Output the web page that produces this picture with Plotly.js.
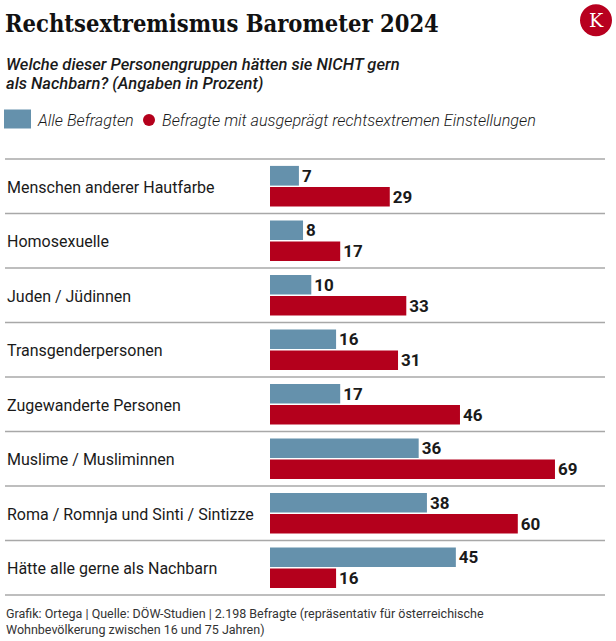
<!DOCTYPE html>
<html>
<head>
<meta charset="utf-8">
<script src="https://cdn.plot.ly/plotly-3.0.1.min.js"></script>
<style>html,body{margin:0;padding:0;background:#fff;}#chart{width:616px;height:641px;}</style>
</head>
<body>
<div id="chart"></div>
<script>
// ---- data ----
const categories = [
  'Menschen anderer Hautfarbe',
  'Homosexuelle',
  'Juden / Jüdinnen',
  'Transgenderpersonen',
  'Zugewanderte Personen',
  'Muslime / Musliminnen',
  'Roma / Romnja und Sinti / Sintizze',
  'Hätte alle gerne als Nachbarn'
];
const alleBefragten = [7, 8, 10, 16, 17, 36, 38, 45];
const rechtsextrem = [29, 17, 33, 31, 46, 69, 60, 16];
const seriesNames = ['Alle Befragten', 'Befragte mit ausgeprägt rechtsextremen Einstellungen'];
const titleText = 'Rechtsextremismus Barometer 2024';
const subtitleLines = ['Welche dieser Personengruppen hätten sie NICHT gern', 'als Nachbarn? (Angaben in Prozent)'];
const footerText = 'Grafik: Ortega | Quelle: DÖW-Studien | 2.198 Befragte (repräsentativ für österreichische<br>Wohnbevölkerung zwischen 16 und 75 Jahren)';

// ---- layout geometry ----
const FW = 616, FH = 641;
const L = 270, R = 11, T = 159, B = 46;
const W = FW - L - R, H = FH - T - B;
const pxPerUnit = 4.13;
const px = x => (x - L) / W;
const py = y => 1 - (y - T) / H;

const BLUE = '#6591ac';
const RED = '#b4001c';
const SEP = '#a8a8a8';
const TXT = '#1a1a1a';

const valueFont = {family: 'Roboto, sans-serif', size: 17, weight: 700, color: TXT};

const traces = [
  {type: 'bar', orientation: 'h', name: seriesNames[0], y: categories, x: alleBefragten,
   marker: {color: BLUE}, text: alleBefragten.map(String), textposition: 'outside',
   textfont: valueFont, cliponaxis: false, constraintext: 'none', hoverinfo: 'skip'},
  {type: 'bar', orientation: 'h', name: seriesNames[1], y: categories, x: rechtsextrem,
   marker: {color: RED}, text: rechtsextrem.map(String), textposition: 'outside',
   textfont: valueFont, cliponaxis: false, constraintext: 'none', hoverinfo: 'skip'}
];

const shapes = [];
// row separators
for (let i = 0; i <= categories.length; i++) {
  shapes.push({type: 'line', xref: 'paper', yref: 'paper', x0: px(5), x1: px(605),
    y0: i / categories.length, y1: i / categories.length, line: {color: SEP, width: 1.5}});
}
// legend symbols
shapes.push({type: 'rect', xref: 'paper', yref: 'paper', x0: px(4), x1: px(31), y0: py(128.5), y1: py(109.5),
  fillcolor: BLUE, line: {width: 0}});
shapes.push({type: 'circle', xref: 'paper', yref: 'paper', x0: px(143), x1: px(155), y0: py(126), y1: py(114),
  fillcolor: RED, line: {width: 0}});
// logo circle
shapes.push({type: 'circle', xref: 'paper', yref: 'paper', x0: px(580), x1: px(612), y0: py(36.3), y1: py(4.3),
  fillcolor: '#b8001f', line: {width: 0}});

const annotations = [];
categories.forEach(c => {
  annotations.push({xref: 'paper', yref: 'y', x: px(5), y: c, xanchor: 'left', yanchor: 'middle', yshift: -1,
    text: c, showarrow: false, font: {family: 'Roboto, sans-serif', size: 16, color: TXT}});
});
subtitleLines.forEach((s, i) => {
  annotations.push({xref: 'paper', yref: 'paper', x: px(4), y: py(64.5 + i * 19), xanchor: 'left', yanchor: 'middle',
    text: s, showarrow: false, font: {family: 'Roboto, sans-serif', size: 16.5, style: 'italic', weight: 500, color: TXT}});
});
const legFont = {family: 'Roboto, sans-serif', size: 16.2, style: 'italic', weight: 300, color: TXT};
annotations.push({xref: 'paper', yref: 'paper', x: px(35), y: py(120), xanchor: 'left', yanchor: 'middle',
  text: seriesNames[0], showarrow: false, font: legFont});
annotations.push({xref: 'paper', yref: 'paper', x: px(160), y: py(120), xanchor: 'left', yanchor: 'middle',
  text: seriesNames[1], showarrow: false, font: legFont});
annotations.push({xref: 'paper', yref: 'paper', x: px(4), y: py(604), xanchor: 'left', yanchor: 'top', align: 'left',
  text: footerText, showarrow: false, font: {family: 'Roboto, sans-serif', size: 12.5, color: '#333'}});
annotations.push({xref: 'paper', yref: 'paper', x: px(596), y: py(20.3), xanchor: 'center', yanchor: 'middle',
  text: 'K', showarrow: false, font: {family: 'DejaVu Serif, serif', size: 19, color: '#fff'}});

const layout = {
  width: FW, height: FH,
  margin: {l: L, r: R, t: T, b: B, pad: 0},
  paper_bgcolor: '#fff', plot_bgcolor: '#fff',
  showlegend: false,
  barmode: 'group', bargap: 0.23, bargroupgap: 0.06,
  title: {text: titleText, xref: 'container', yref: 'container', x: 5 / FW, xanchor: 'left',
    y: 1 - 15.7 / FH, yanchor: 'top',
    font: {family: '"DejaVu Serif Condensed", "DejaVu Serif", serif', size: 23.5, weight: 700, color: '#111'}},
  xaxis: {range: [0, W / pxPerUnit], visible: false, fixedrange: true},
  yaxis: {type: 'category', range: [categories.length - 0.5, -0.5], showticklabels: false,
    showgrid: false, zeroline: false, showline: false, ticks: '', fixedrange: true},
  shapes: shapes,
  annotations: annotations
};

Plotly.newPlot('chart', traces, layout, {staticPlot: true, displayModeBar: false});
</script>
</body>
</html>
